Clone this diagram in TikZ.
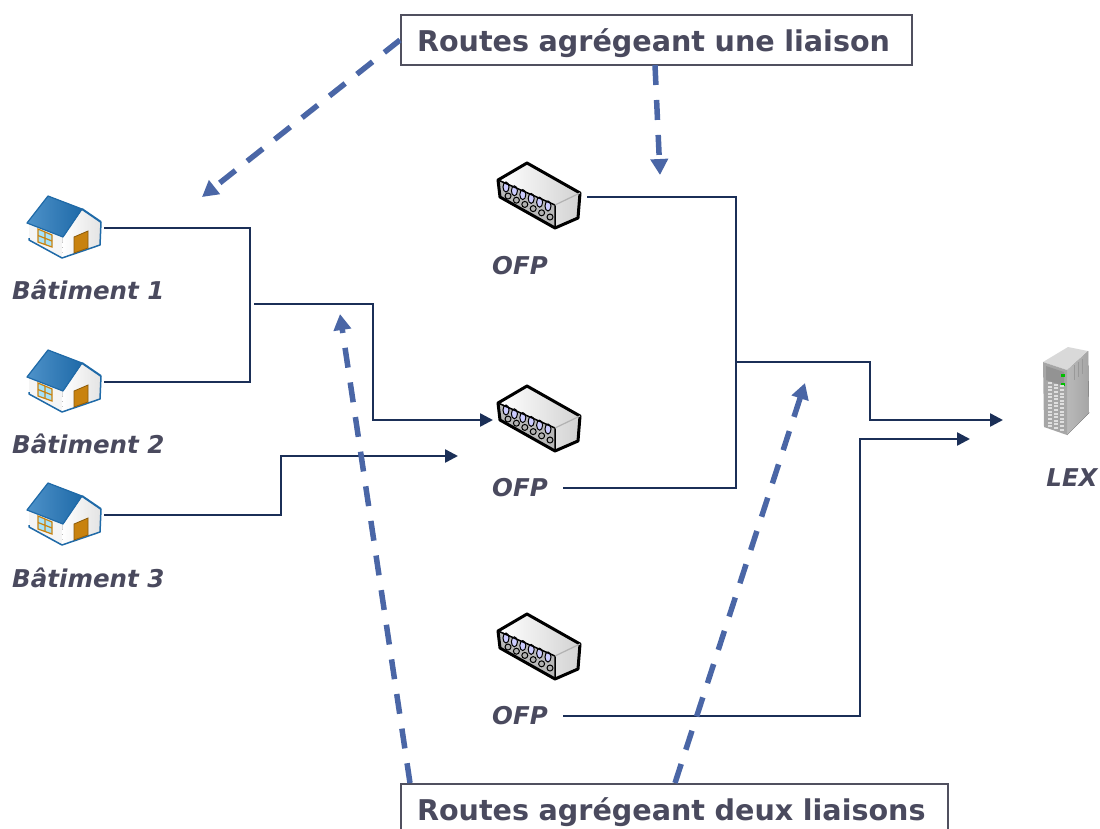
\documentclass[tikz,border=0pt]{standalone}
\usepackage{fontspec}
\setmainfont{DejaVu Sans}
\usetikzlibrary{arrows.meta,calc}
\definecolor{inkc}{HTML}{4A4A5E}
\definecolor{linec}{HTML}{1B2F57}
\definecolor{dashc}{HTML}{4A66A6}
\definecolor{boxc}{HTML}{50505F}
\definecolor{roofc}{HTML}{2F7FC0}
\definecolor{roofd}{HTML}{1F6AA8}
\definecolor{wallc}{HTML}{F2F2F2}
\definecolor{doorc}{HTML}{C8820F}
\tikzset{
 iconbox/.style={minimum width=#1,inner sep=0pt,outer sep=0pt},
 buildinglabel/.style={font=\bfseries\itshape\fontsize{24.5}{28}\selectfont,text=inkc,inner sep=0pt},
 ofplabel/.style={font=\bfseries\itshape\fontsize{24.5}{28}\selectfont,text=inkc,inner sep=0pt,minimum width=86pt},
 routebox/.style={draw=boxc,line width=2pt,fill=white,inner sep=0pt,anchor=north west,font=\bfseries\fontsize{28.6}{32}\selectfont,text=inkc,align=left,text depth=0pt},
 wire/.style={draw=linec,line width=2.5pt,line join=miter},
 wirearrow/.style={wire,-{Triangle[length=13pt,width=13pt]}},
 routearrow/.style={draw=dashc,line width=5.5pt,dash pattern=on 20pt off 15pt,-{Triangle[length=16pt,width=17pt]}},
 house/.pic={
  \fill[white!92!gray] (-35,-5)--(-1,9)--(-2,30)--(-35,12)--cycle;
  \fill[left color=white,right color=gray!22] (-1,9)--(18,-18)--(37,-6)--(36,17)--(-2,30)--cycle;
  \draw[roofd,line width=1.5pt,line join=round] (-35,10)--(-35,12)--(-2,30)--(36,17)--(37,-6);
  \fill[left color=roofc!85!white,right color=roofd,draw=roofd,line width=1.2pt,line join=round] (-16,-32)--(-37,-5)--(-1,9)--(18,-19)--cycle;
  \draw[roofd,line width=2pt] (18,-19)--(37,-6);
  \fill[doorc,draw=doorc!70!black,line width=.8pt] (10,9)--(24,3)--(24,20)--(10,25)--cycle;
  \fill[cyan!35!white,draw=doorc,line width=1.2pt] (-26,1)--(-12,7)--(-12,19)--(-26,14)--cycle;
  \draw[doorc,line width=1.2pt] (-19,4)--(-19,16.5) (-26,7.5)--(-12,13);
 },
 switchicon/.pic={
  \fill[left color=white,right color=gray!35] (-13,-33)--(39,-4)--(37,20)--(15,30)--(15,8)--(-40,-17)--cycle;
  \fill[gray!55] (-42,-17)--(15,8)--(15,31)--(-40,0)--cycle;
  \foreach \i in {0,...,5}{
   \fill[white!80!blue,draw=black,line width=1pt] ({-34+\i*8.4},{-10+\i*3.8}) ellipse (3pt and 5pt);
   \fill[gray!60,draw=black,line width=1pt] ({-32+\i*8.4},{-1+\i*4.2}) circle (3pt);
  }
  \draw[black,line width=3pt,line join=round] (-42,-17)--(-13,-34)--(40,-4)--(38,21)--(15,31)--(-40,0)--cycle;
  \draw[black,line width=1.5pt] (-42,-17)--(15,8)--(15,31);
  \draw[gray!60,line width=1.2pt] (15,8)--(40,-4);
 },
 servericon/.pic={
  \fill[left color=gray!55,right color=gray!70] (1,-20)--(22,-39)--(23,23)--(1,45)--cycle;
  \fill[gray!30] (-23,-28)--(2,-43)--(22,-39)--(1,-20)--cycle;
  \fill[gray!70] (-23,-28)--(1,-20)--(1,45)--(-22,37)--cycle;
  \fill[gray!85] (-20,-24)--(-2,-18)--(-2,-4)--(-20,-10)--cycle;
  \fill[green!75!black] (-5,-16) rectangle (-1,-13);
  \fill[green!75!black] (-5,-7) rectangle (-1,-4);
  \foreach \k in {0,1,2}{\foreach \j in {0,...,12}{
    \fill[white!75!gray] ({-18+\k*6},{-8+\j*3.6+\k*1.7}) rectangle ++(4,2);}}
  \draw[gray!80,line width=1pt] (8,-25)--(8,-10) (12,-28)--(12,-13) (16,-31)--(16,-16);
 }
}
\begin{document}
\begin{tikzpicture}[x=1pt,y=-1pt]
\useasboundingbox (0,0) rectangle (1100,828);
\clip (0,0) rectangle (1100,828);

% icon anchors
\node[iconbox=80pt] (h1) at (64,228) {};
\node[iconbox=80pt] (h2) at (64,382) {};
\node[iconbox=80pt] (h3) at (64,515) {};
\node[iconbox=94pt] (s1) at (540,197) {};
\node[iconbox=94pt] (s2) at (540,420) {};
\node[iconbox=94pt] (s3) at (540,648) {};
\node[iconbox=50pt] (lex) at (1066,390) {};
\pic at (h1) {house};
\pic at (h2) {house};
\pic at (h3) {house};
\pic at (s1) {switchicon};
\pic at (s2) {switchicon};
\pic at (s3) {switchicon};
\pic at (lex) {servericon};

% labels
\node[buildinglabel,anchor=base west] (b1) at (12,299) {Bâtiment 1};
\node[buildinglabel,anchor=base west] (b2) at (12,453) {Bâtiment 2};
\node[buildinglabel,anchor=base west] (b3) at (12,587) {Bâtiment 3};
\node[ofplabel] (o1) at (520,266) {OFP};
\node[ofplabel] (o2) at (520,488) {OFP};
\node[ofplabel] (o3) at (520,716) {OFP};
\node[buildinglabel] (lexl) at (1072,478) {LEX};

% route boxes
\node[routebox,minimum width=511pt,minimum height=50pt,text width=495pt] (r1) at (400,14) {\hspace*{8pt}Routes agrégeant une liaison};
\node[routebox,minimum width=547pt,minimum height=50pt,text width=531pt] (r2) at (400,783) {\hspace*{8pt}Routes agrégeant deux liaisons};

% free-end coordinates
\coordinate (j1) at (254,304);
\coordinate (j2) at (736,362);
\coordinate (e3) at (458,456);
\coordinate (e1) at (1003,420);
\coordinate (e2) at (970,439);
\coordinate (d1) at (202,197);
\coordinate (d2) at (660,175);
\coordinate (d3) at (340,314);
\coordinate (d4) at (805,383);
\coordinate (r1a) at (400,40);
\coordinate (r1b) at (655,65);
\coordinate (r2a) at (410,783);
\coordinate (r2b) at (675,783);

% wires
\draw[wire] (h1.east) -| (250,382) -- (h2.east);
\draw[wirearrow] (j1) -- (373,304) -- (373,420) -- (s2.west);
\draw[wirearrow] (h3.east) -- (281,515) -- (281,456) -- (e3);
\draw[wire] (s1.east) -- (736,197) -- (736,488) -- (o2.east);
\draw[wirearrow] (j2) -- (870,362) -- (870,420) -- (e1);
\draw[wirearrow] (o3.east) -- (860,716) -- (860,439) -- (e2);

% dashed route arrows
\draw[routearrow] (r1a) -- (d1);
\draw[routearrow] (r1b) -- (d2);
\draw[routearrow] (r2a) -- (d3);
\draw[routearrow] (r2b) -- (d4);
\end{tikzpicture}
\end{document}
